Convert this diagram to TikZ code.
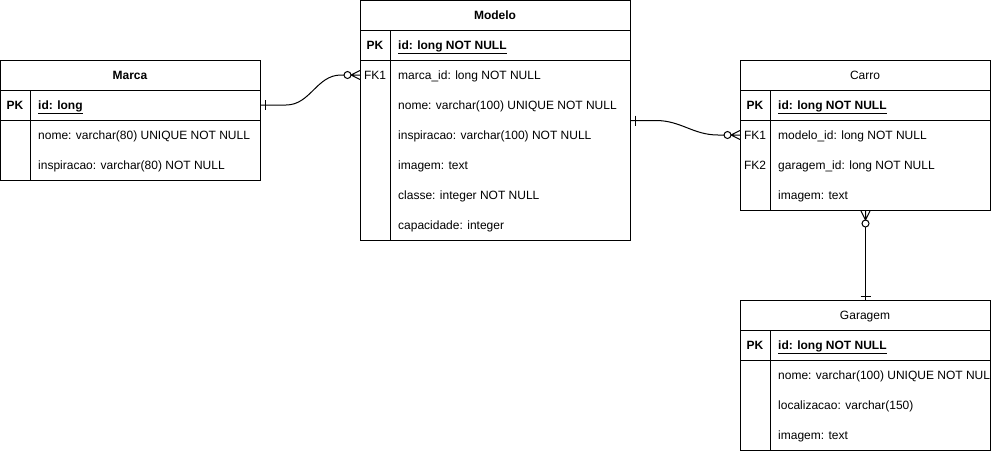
\documentclass[tikz,border=0pt]{standalone}
\usepackage{fontspec}
\setmainfont{Liberation Sans}
\usetikzlibrary{calc}
\begin{document}
\begin{tikzpicture}[x=1pt,y=-1pt,
  tbl/.style n args={2}{draw, line width=1pt, rectangle, anchor=north west, inner sep=0pt,
     minimum width=#1pt, minimum height=#2pt},
  sep/.style={line width=1pt},
  fld/.style={font=\fontsize{12}{14}\selectfont, inner sep=0pt, anchor=west, text height=10.5pt, text depth=1.5pt},
  key/.style={fld, anchor=center},
  hdr/.style={fld, anchor=center},
  rel/.style={line width=1pt},
  ermark/.style={line width=1pt}
]
\useasboundingbox (0,0) rectangle (991,451);

% ---------------- Marca ----------------
\node[tbl={260}{120}] (marca) at (0,60) {};
\draw[sep] (0,90) -- (260,90);
\draw[sep] (0,120) -- (260,120);
\draw[sep] (30,90) -- (30,180);
\node[hdr, font=\fontsize{12}{14}\selectfont\bfseries] (marcah) at (130,75) {Marca};
\node[key, font=\fontsize{12}{14}\selectfont\bfseries] (marcak) at (15,105) {PK};
\node[fld, font=\fontsize{12}{14}\selectfont\bfseries] (mpk) at (38,105) {\underline{id: long}};
\node[fld] (mnome) at (38,135) {nome: varchar(80) UNIQUE NOT NULL};
\node[fld] (minsp) at (38,165) {inspiracao: varchar(80) NOT NULL};

% ---------------- Modelo ----------------
\node[tbl={270}{240}] (modelo) at (360,0) {};
\draw[sep] (360,30) -- (630,30);
\draw[sep] (360,60) -- (630,60);
\draw[sep] (390,30) -- (390,240);
\node[hdr, font=\fontsize{12}{14}\selectfont\bfseries] (modeloh) at (495,15) {Modelo};
\node[key, font=\fontsize{12}{14}\selectfont\bfseries] (modk) at (375,45) {PK};
\node[fld, font=\fontsize{12}{14}\selectfont\bfseries] (mopk) at (398,45) {\underline{id: long NOT NULL}};
\node[key] (modfk) at (375,75) {FK1};
\node[fld] (mfk1) at (398,75) {marca\_id: long NOT NULL};
\node[fld] (monome) at (398,105) {nome: varchar(100) UNIQUE NOT NULL};
\node[fld] (moinsp) at (398,135) {inspiracao: varchar(100) NOT NULL};
\node[fld] (moimg) at (398,165) {imagem: text};
\node[fld] (mocls) at (398,195) {classe: integer NOT NULL};
\node[fld] (mocap) at (398,225) {capacidade: integer};

% ---------------- Carro ----------------
\node[tbl={250}{150}] (carro) at (740,60) {};
\draw[sep] (740,90) -- (990,90);
\draw[sep] (740,120) -- (990,120);
\draw[sep] (770,90) -- (770,210);
\node[hdr] (carroh) at (865,75) {Carro};
\node[key, font=\fontsize{12}{14}\selectfont\bfseries] (ck) at (755,105) {PK};
\node[fld, font=\fontsize{12}{14}\selectfont\bfseries] (cpk) at (778,105) {\underline{id: long NOT NULL}};
\node[key] (cfkk1) at (755,135) {FK1};
\node[fld] (cfk1) at (778,135) {modelo\_id: long NOT NULL};
\node[key] (cfkk2) at (755,165) {FK2};
\node[fld] (cfk2) at (778,165) {garagem\_id: long NOT NULL};
\node[fld] (cimg) at (778,195) {imagem: text};

% ---------------- Garagem ----------------
\node[tbl={250}{150}] (garagem) at (740,300) {};
\draw[sep] (740,330) -- (990,330);
\draw[sep] (740,360) -- (990,360);
\draw[sep] (770,330) -- (770,450);
\node[hdr] (garagemh) at (865,315) {Garagem};
\node[key, font=\fontsize{12}{14}\selectfont\bfseries] (gk) at (755,345) {PK};
\node[fld, font=\fontsize{12}{14}\selectfont\bfseries] (gpk) at (778,345) {\underline{id: long NOT NULL}};
\begin{scope}
  \clip (770,360) rectangle (989.5,450);
  \node[fld] (gnome) at (778,375) {nome: varchar(100) UNIQUE NOT NULL};
\end{scope}
\node[fld] (gloc) at (778,405) {localizacao: varchar(150)};
\node[fld] (gimg) at (778,435) {imagem: text};

% ---------------- Connectors ----------------
% Marca -> Modelo
\coordinate (s1) at (marca.east |- mpk);
\coordinate (e1) at (modelo.west |- mfk1);
\draw[rel] (s1) -- ($(s1)+(25,0)$) to[out=0,in=180] ($(e1)+(-19,0)$) -- ($(e1)+(-16,0)$);
\draw[ermark] ($(s1)+(4,-5)$) -- ($(s1)+(4,5)$);
\draw[ermark] ($(e1)+(-12.5,0)$) circle[radius=3.5];
\draw[ermark] ($(e1)+(-9,0)$) -- ($(e1)+(0,-4.5)$)
            ($(e1)+(-9,0)$) -- (e1)
            ($(e1)+(-9,0)$) -- ($(e1)+(0,4.5)$);

% Modelo -> Carro
\coordinate (s2) at (modelo.east);
\coordinate (e2) at (carro.west |- cfk1);
\draw[rel] (s2) -- ($(s2)+(25,0)$) to[out=0,in=180] ($(e2)+(-22,0)$) -- ($(e2)+(-16,0)$);
\draw[ermark] ($(s2)+(4,-5)$) -- ($(s2)+(4,5)$);
\draw[ermark] ($(e2)+(-12.5,0)$) circle[radius=3.5];
\draw[ermark] ($(e2)+(-9,0)$) -- ($(e2)+(0,-4.5)$)
            ($(e2)+(-9,0)$) -- (e2)
            ($(e2)+(-9,0)$) -- ($(e2)+(0,4.5)$);

% Carro -> Garagem
\coordinate (s3) at (carro.south);
\coordinate (e3) at (garagem.north);
\draw[rel] ($(s3)+(0,16)$) -- (e3);
\draw[ermark] ($(s3)+(0,12.5)$) circle[radius=3.5];
\draw[ermark] ($(s3)+(0,9)$) -- ($(s3)+(-4.5,0)$)
            ($(s3)+(0,9)$) -- (s3)
            ($(s3)+(0,9)$) -- ($(s3)+(4.5,0)$);
\draw[ermark] ($(e3)+(-5,-4)$) -- ($(e3)+(5,-4)$);
\end{tikzpicture}
\end{document}
